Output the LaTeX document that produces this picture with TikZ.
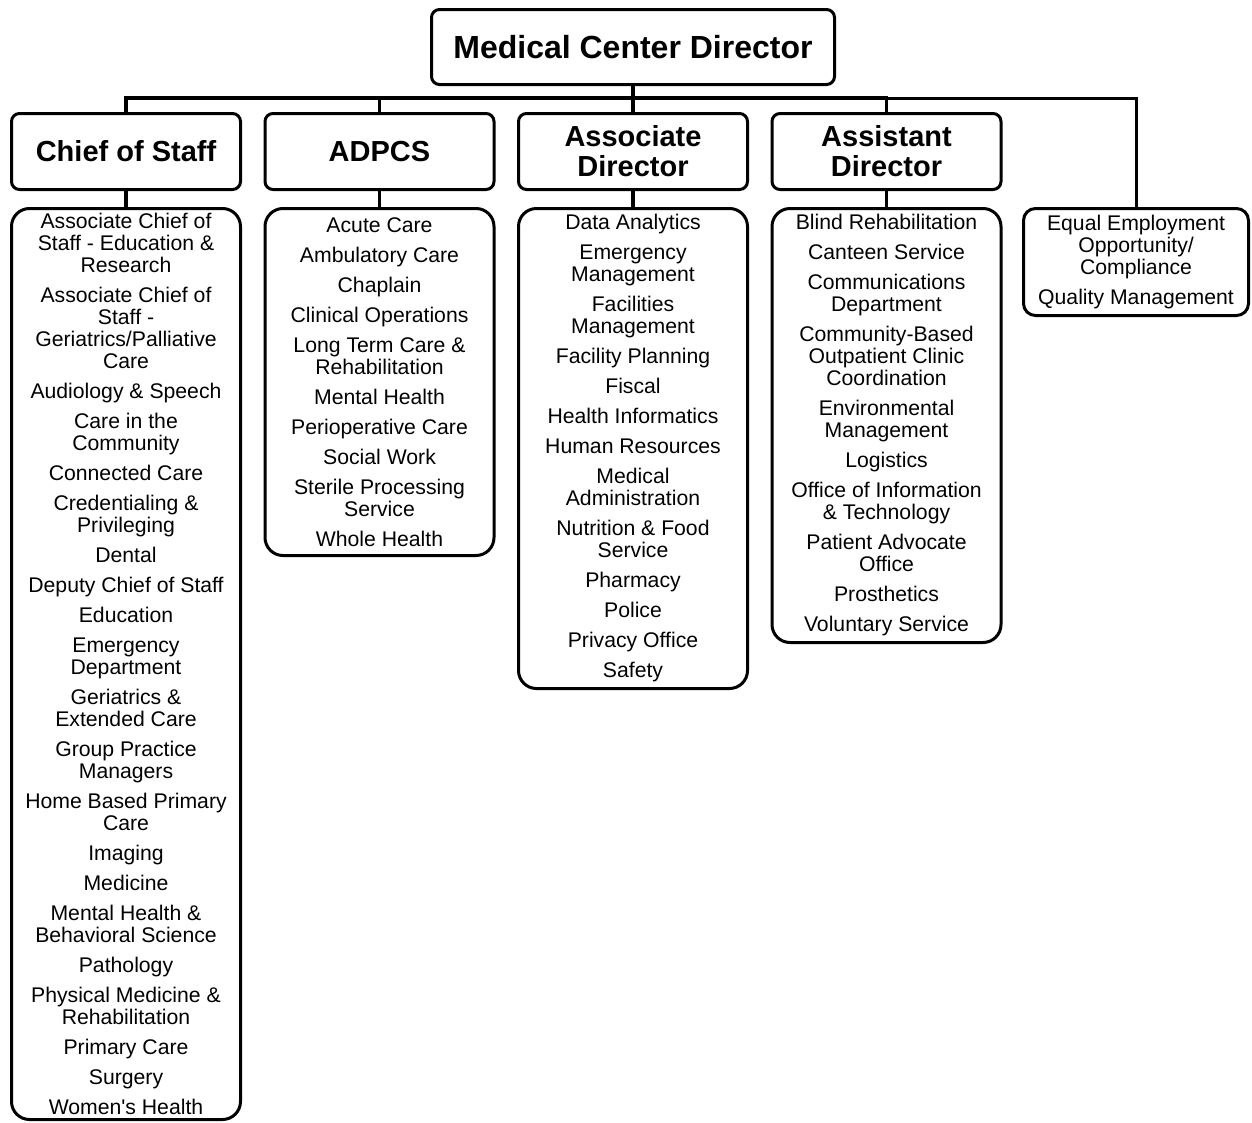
\documentclass[tikz,border=0pt]{standalone}
\usepackage{fontspec}
\setmainfont{Liberation Sans}
\usetikzlibrary{positioning}

\begin{document}
\begin{tikzpicture}[x=1pt, y=-1pt, node distance=21.5pt,
  box/.style={draw, line width=3pt, fill=white, align=center},
  headbox/.style={box, rounded corners=8pt, minimum width=229pt, minimum height=76pt, font=\fontsize{29}{30}\selectfont\bfseries},
  listbox/.style={box, rounded corners=18pt, minimum width=229pt, inner sep=0pt, font=\fontsize{21.2}{22}\selectfont},
  conn/.style={line width=3.5pt}]
\useasboundingbox (0,0) rectangle (1252,1122);

% top
\node[box, rounded corners=8pt, minimum width=403pt, minimum height=75pt, font=\fontsize{32}{34}\selectfont\bfseries] (mcd) at (633,47) {Medical Center Director};

% second row
\node[headbox] (cos) at (126,151.5) {Chief of Staff};
\node[headbox, right=of cos] (adpcs) {ADPCS};
\node[headbox, right=of adpcs] (assoc) {Associate\\Director};
\node[headbox, right=of assoc] (assist) {Assistant\\Director};

% lists
\node[listbox, minimum height=911pt, below=16pt of cos] (cosl) {Associate Chief of\\Staff - Education \&\\Research\\[8pt]
Associate Chief of\\Staff -\\Geriatrics/Palliative\\Care\\[8pt]
Audiology \& Speech\\[8pt]
Care in the\\Community\\[8pt]
Connected Care\\[8pt]
Credentialing \&\\Privileging\\[8pt]
Dental\\[8pt]
Deputy Chief of Staff\\[8pt]
Education\\[8pt]
Emergency\\Department\\[8pt]
Geriatrics \&\\Extended Care\\[8pt]
Group Practice\\Managers\\[8pt]
Home Based Primary\\Care\\[8pt]
Imaging\\[8pt]
Medicine\\[8pt]
Mental Health \&\\Behavioral Science\\[8pt]
Pathology\\[8pt]
Physical Medicine \&\\Rehabilitation\\[8pt]
Primary Care\\[8pt]
Surgery\\[8pt]
Women\textquotesingle s Health};
\node[listbox, minimum height=347pt, below=16pt of adpcs] (adpcsl) {Acute Care\\[8pt]
Ambulatory Care\\[8pt]
Chaplain\\[8pt]
Clinical Operations\\[8pt]
Long Term Care \&\\Rehabilitation\\[8pt]
Mental Health\\[8pt]
Perioperative Care\\[8pt]
Social Work\\[8pt]
Sterile Processing\\Service\\[8pt]
Whole Health};
\node[listbox, minimum height=480pt, below=16pt of assoc] (assocl) {Data Analytics\\[8pt]
Emergency\\Management\\[8pt]
Facilities\\Management\\[8pt]
Facility Planning\\[8pt]
Fiscal\\[8pt]
Health Informatics\\[8pt]
Human Resources\\[8pt]
Medical\\Administration\\[8pt]
Nutrition \& Food\\Service\\[8pt]
Pharmacy\\[8pt]
Police\\[8pt]
Privacy Office\\[8pt]
Safety};
\node[listbox, minimum height=434pt, below=16pt of assist] (assistl) {Blind Rehabilitation\\[8pt]
Canteen Service\\[8pt]
Communications\\Department\\[8pt]
Community-Based\\Outpatient Clinic\\Coordination\\[8pt]
Environmental\\Management\\[8pt]
Logistics\\[8pt]
Office of Information\\\& Technology\\[8pt]
Patient Advocate\\Office\\[8pt]
Prosthetics\\[8pt]
Voluntary Service};
\node[listbox, rounded corners=12pt, minimum width=225pt, minimum height=107pt, anchor=north] (eeo) at (1136,207) {Equal Employment\\Opportunity/\\Compliance\\[8pt]
Quality Management};

% connectors
\draw[conn] (mcd.south) -- ++(0,12) coordinate (bus);
\draw[conn] (bus) -| (cos.north);
\draw[conn] (bus) -| (adpcs.north);
\draw[conn] (bus) -- (assoc.north);
\draw[conn] (bus) -| (assist.north);
\draw[line width=3pt] (bus) -| (eeo.north);
\draw[conn] (cos.south) -- (cosl.north);
\draw[conn] (adpcs.south) -- (adpcsl.north);
\draw[conn] (assoc.south) -- (assocl.north);
\draw[conn] (assist.south) -- (assistl.north);
\end{tikzpicture}
\end{document}
